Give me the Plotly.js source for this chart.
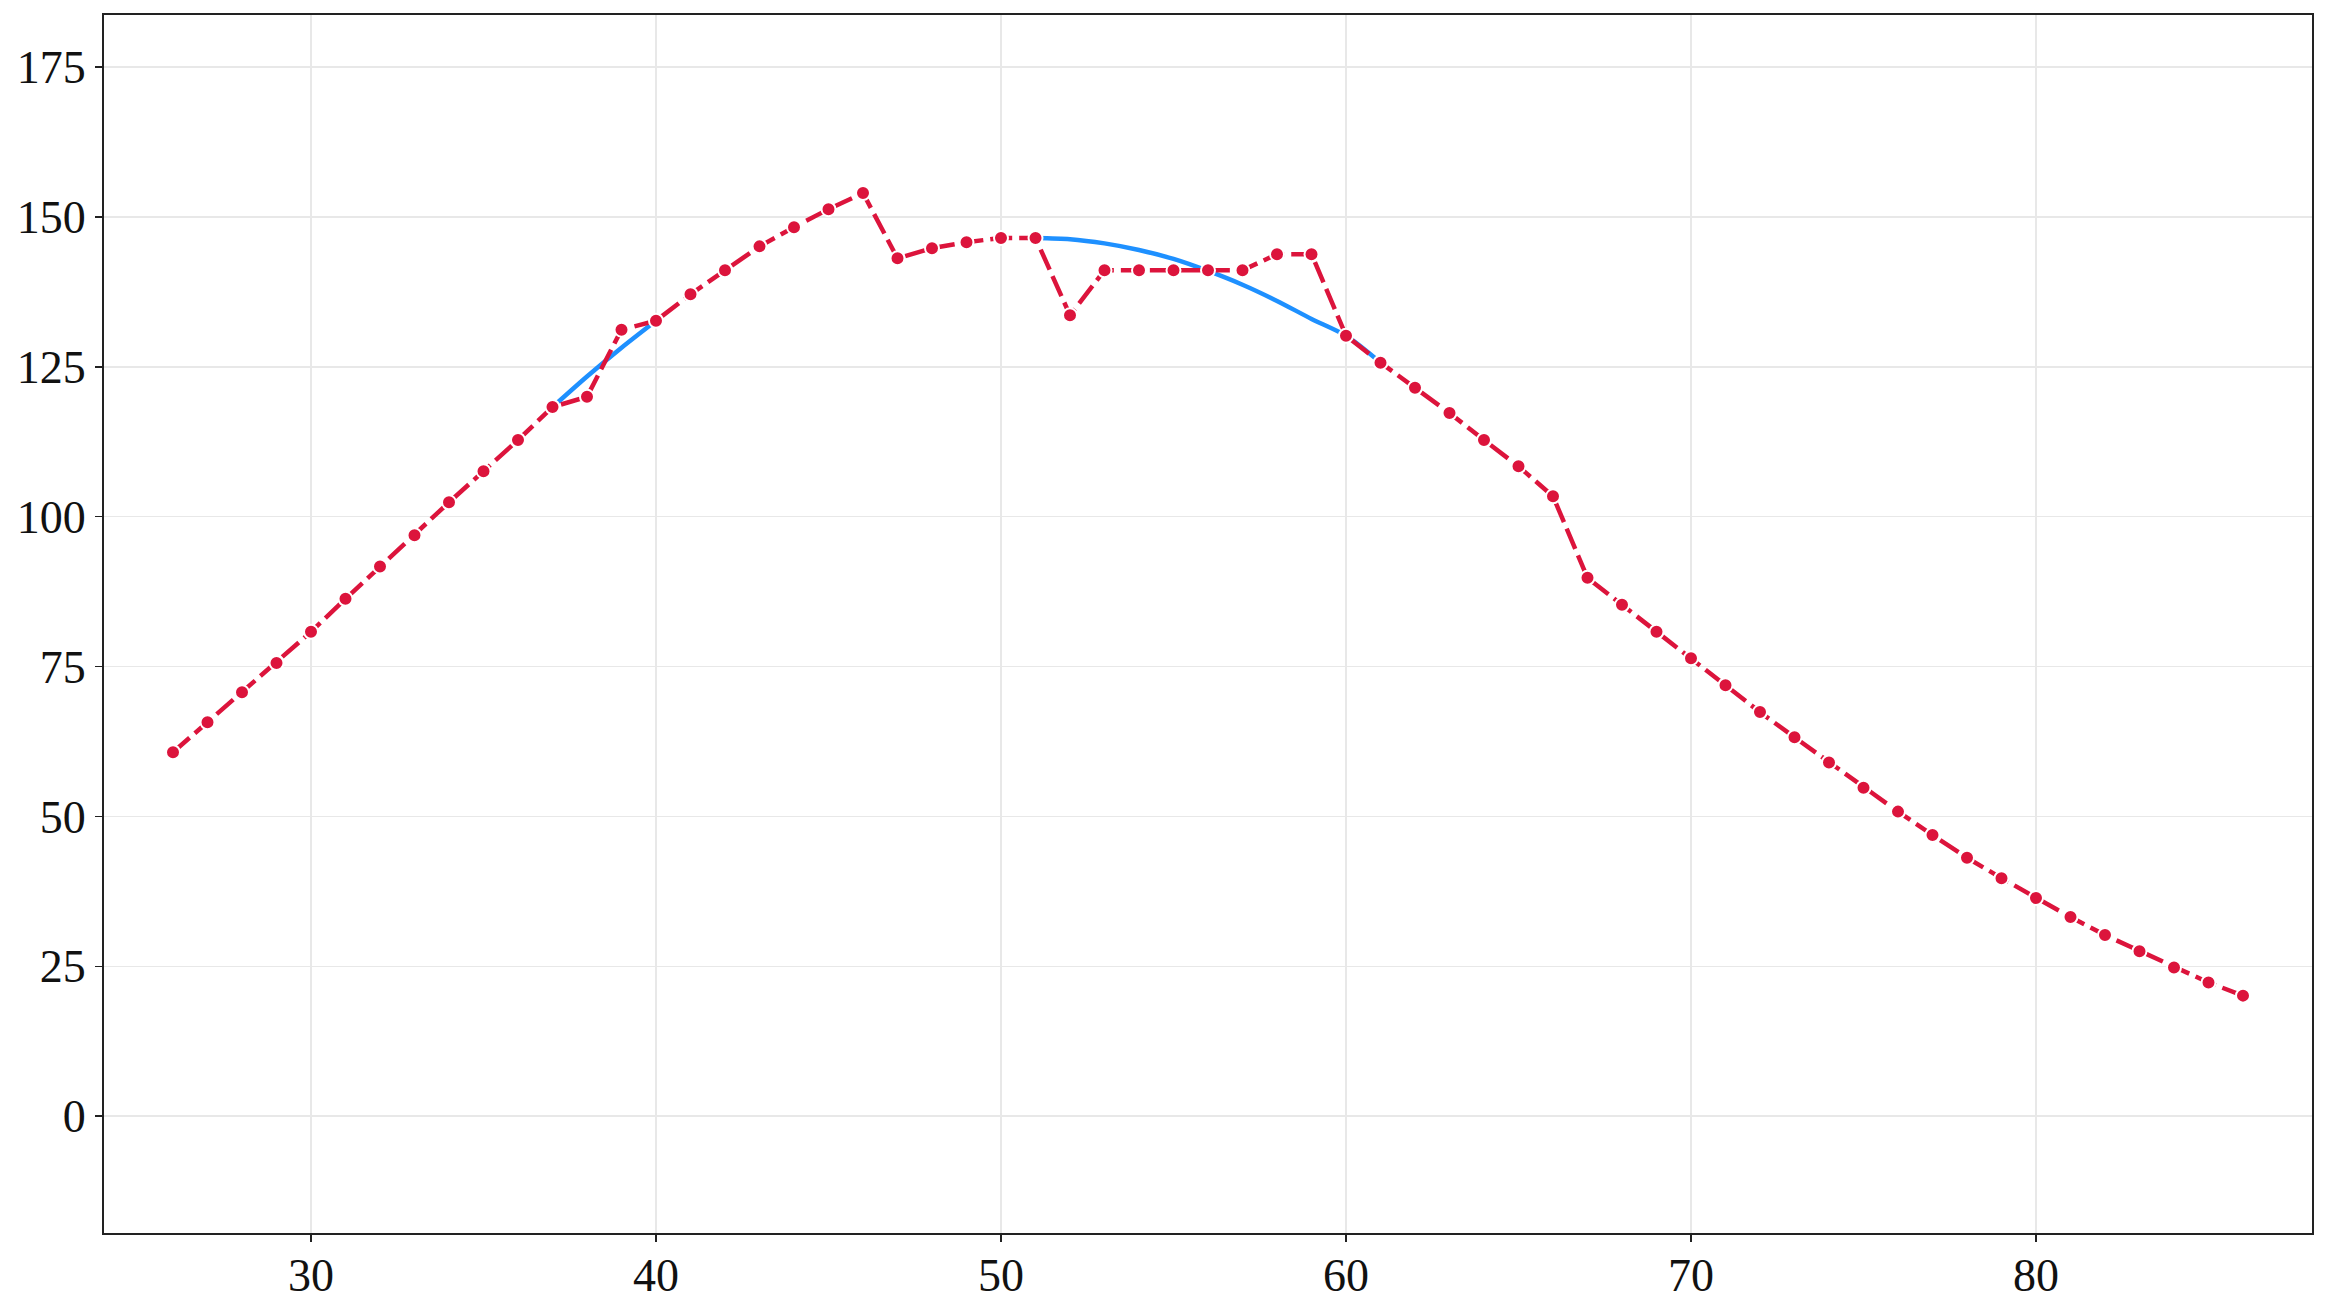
<!DOCTYPE html>
<html>
<head>
<meta charset="utf-8">
<script src="https://cdn.plot.ly/plotly-3.0.1.min.js"></script>
<style>html,body{margin:0;padding:0;background:#fff;}#chart{width:2327px;height:1307px;}</style>
</head>
<body>
<div id="chart"></div>
<script>
const xValues = [26,27,28,29,30,31,32,33,34,35,36,37,38,39,40,41,42,43,44,45,46,47,48,49,50,51,52,53,54,55,56,57,58,59,60,61,62,63,64,65,66,67,68,69,70,71,72,73,74,75,76,77,78,79,80,81,82,83,84,85,86];
const observed = [60.7,65.7,70.7,75.6,80.8,86.3,91.7,96.9,102.4,107.6,112.8,118.3,120.0,131.2,132.7,137.1,141.1,145.1,148.3,151.3,154.0,143.1,144.8,145.8,146.5,146.5,133.6,141.1,141.1,141.1,141.1,141.1,143.8,143.8,130.2,125.7,121.5,117.3,112.8,108.4,103.4,89.8,85.3,80.8,76.4,71.9,67.4,63.2,59.0,54.8,50.8,46.9,43.1,39.7,36.4,33.2,30.2,27.5,24.8,22.3,20.1];
const curveX = [37,38,39,40,41,42,43,44,45,46,47,48,49,50,51,52,53,54,55,56,57,58,59,60,61];
const curveY = [118.3,123.4,128.2,132.7,null,null,null,null,null,null,null,null,null,null,146.5,146.3,145.6,144.5,143.0,141.0,138.7,136.0,133.0,130.2,125.7];
const xTicks = [30,40,50,60,70,80];
const yTicks = [0,25,50,75,100,125,150,175];

const fontFam = '"Liberation Serif", "DejaVu Serif", serif';

const traces = [
  {
    x: curveX, y: curveY, type: 'scatter', mode: 'lines',
    connectgaps: false,
    line: {color: '#1E90FF', width: 4.5, shape: 'spline', smoothing: 0.8},
    hoverinfo: 'skip', showlegend: false
  },
  {
    x: xValues, y: observed, type: 'scatter', mode: 'lines+markers',
    line: {color: '#DC143C', width: 4.5, dash: '22px,7px'},
    marker: {color: '#DC143C', size: 14, line: {color: '#ffffff', width: 2}},
    showlegend: false
  }
];

const layout = {
  width: 2327, height: 1307,
  margin: {l: 104, r: 15, t: 15, b: 74},
  paper_bgcolor: '#ffffff', plot_bgcolor: '#ffffff',
  font: {family: fontFam, size: 46, color: '#111111'},
  showlegend: false,
  xaxis: {
    range: [24, 88],
    tickvals: xTicks, ticktext: xTicks.map(String),
    showgrid: true, gridcolor: '#e8e8e8', gridwidth: 1.5,
    zeroline: false,
    showline: true, linecolor: '#222222', linewidth: 2, mirror: true,
    ticks: 'outside', ticklen: 7, tickwidth: 1.5, tickcolor: '#222222',
    ticklabelstandoff: -6,
    tickfont: {family: fontFam, size: 46, color: '#111111'}
  },
  yaxis: {
    range: [-19.5, 183.7],
    tickvals: yTicks, ticktext: yTicks.map(String),
    showgrid: true, gridcolor: '#e8e8e8', gridwidth: 1.5,
    zeroline: false,
    showline: true, linecolor: '#222222', linewidth: 2, mirror: true,
    ticks: 'outside', ticklen: 7, tickwidth: 1.5, tickcolor: '#222222',
    tickfont: {family: fontFam, size: 46, color: '#111111'}
  }
};

Plotly.newPlot('chart', traces, layout, {displayModeBar: false, staticPlot: true});
</script>
</body>
</html>
